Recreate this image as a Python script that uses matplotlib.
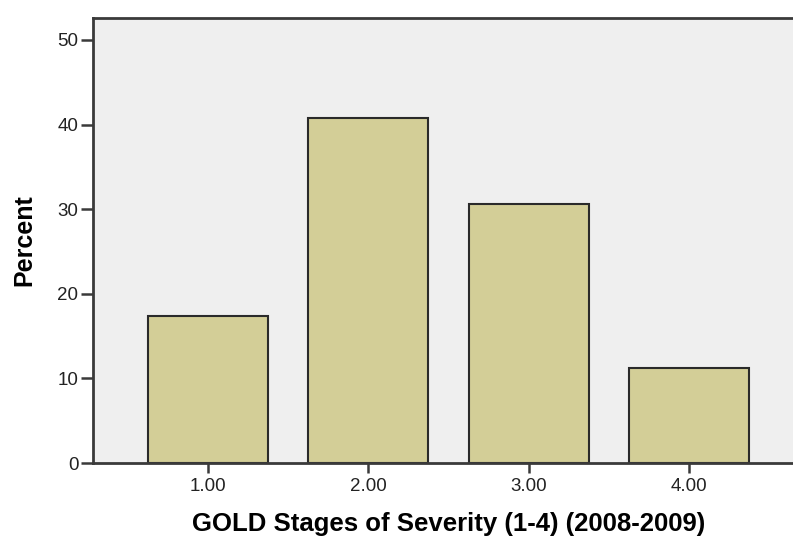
import matplotlib
matplotlib.use("Agg")
from matplotlib import pyplot as plt

stages = [1.0, 2.0, 3.0, 4.0]
stage_labels = ["1.00", "2.00", "3.00", "4.00"]
percent = [17.4, 40.8, 30.6, 11.2]
y_ticks = [0, 10, 20, 30, 40, 50]

plt.rcParams["font.family"] = ["Liberation Sans", "DejaVu Sans"]

fig_w, fig_h = 793, 541
figure = plt.figure(figsize=(fig_w / 100, fig_h / 100), dpi=100)

# axes run past the right edge of the picture, like the cropped SPSS chart
left, right, top, bottom = 93, 804, 18, 463
ax = figure.add_axes([left / fig_w, 1 - bottom / fig_h, (right - left) / fig_w, (bottom - top) / fig_h])
ax.set_facecolor("#efefef")

ax.bar(stages, percent, width=0.75, color="#d3ce97", edgecolor="#2a2a2a", linewidth=1.5, zorder=2)

ax.set_xlim(0.281, 4.719)
ax.set_ylim(0, 52.6)
ax.set_xticks(stages)
ax.set_xticklabels(stage_labels)
ax.set_yticks(y_ticks)

for side in ["left", "bottom", "top"]:
    ax.spines[side].set_color("#3a3a3a")
    ax.spines[side].set_linewidth(2)
ax.spines["right"].set_visible(False)

ax.tick_params(axis="both", direction="out", width=1.8, color="#3a3a3a", labelsize=13.5, labelcolor="#222222")
ax.tick_params(axis="y", length=8.5, pad=2)
ax.tick_params(axis="x", length=7, pad=4)

ax.set_xlabel("GOLD Stages of Severity (1-4) (2008-2009)", fontsize=18.5, fontweight="bold", va="center")
ax.set_ylabel("Percent", fontsize=18, fontweight="bold", va="center")
ax.xaxis.set_label_coords(0.5, (bottom - 524) / (bottom - top))
ax.yaxis.set_label_coords((24 - left) / (right - left), 0.5)

figure.savefig("out.png", dpi=100)
